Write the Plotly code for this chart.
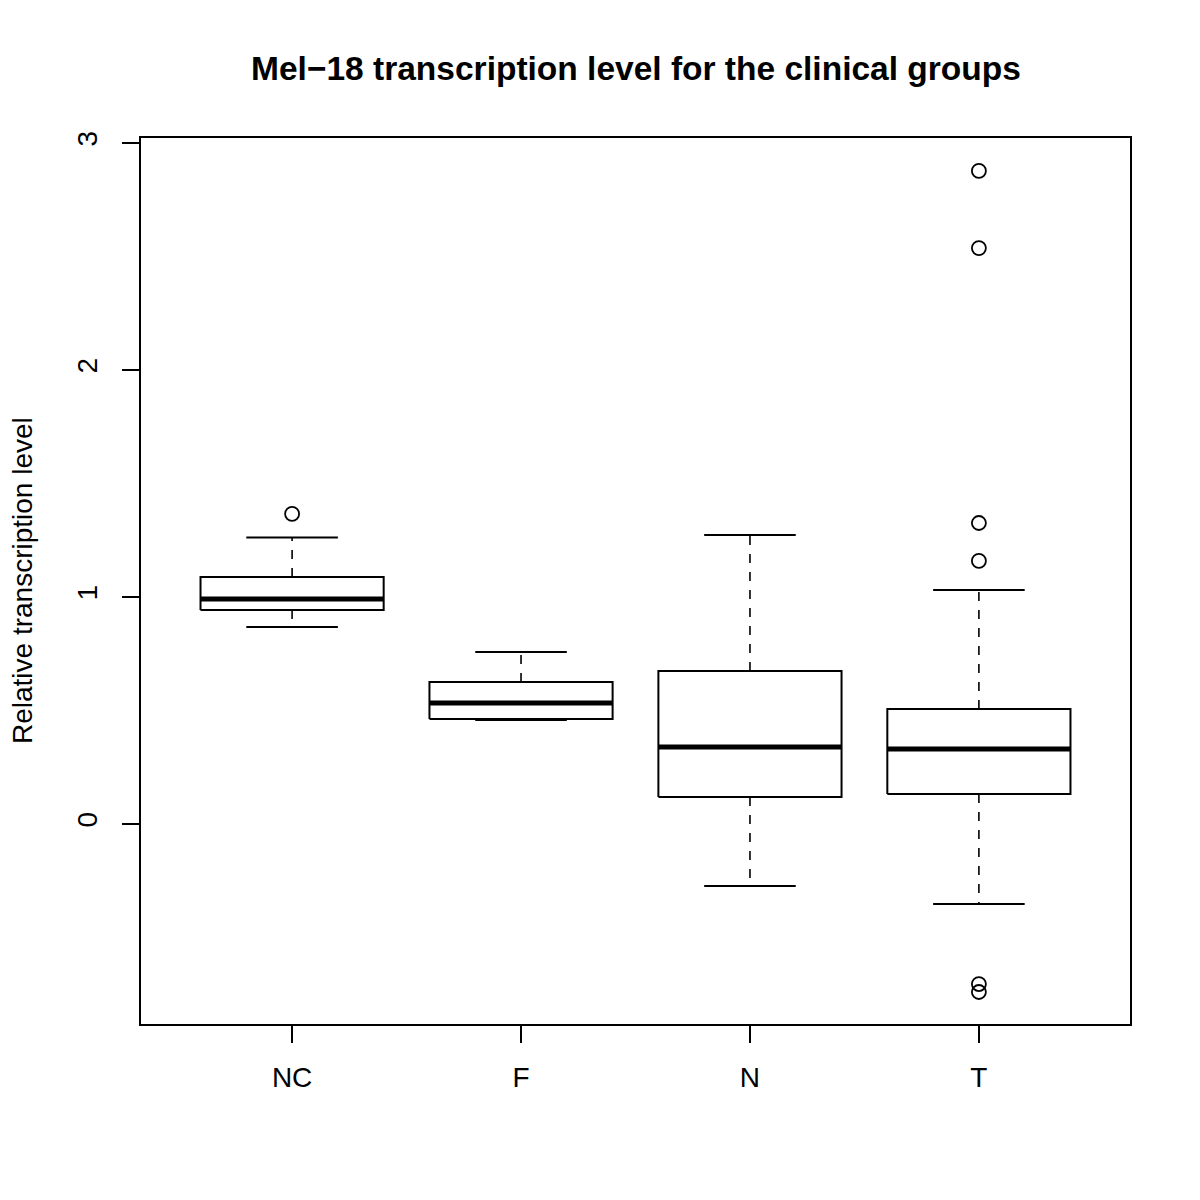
import plotly.graph_objects as go

# ---- data ----
groups = ["NC", "F", "N", "T"]
positions = [1, 2, 3, 4]
lower_whisker = [0.868, 0.458, -0.273, -0.352]
q1 = [0.943, 0.463, 0.119, 0.132]
median = [0.991, 0.533, 0.339, 0.330]
q3 = [1.088, 0.626, 0.674, 0.507]
upper_whisker = [1.262, 0.758, 1.273, 1.031]
outliers = [
    [1.366],
    [],
    [],
    [2.877, 2.537, 1.326, 1.159, -0.705, -0.740],
]

y_ticks = [0, 1, 2, 3]

BOX_HALF = 0.4
STAPLE_HALF = 0.2
FONT = "Liberation Sans, Arial, Helvetica, sans-serif"

fig = go.Figure()

for i, p in enumerate(positions):
    # whiskers (dashed)
    fig.add_trace(go.Scatter(
        x=[p, p, None, p, p],
        y=[q3[i], upper_whisker[i], None, q1[i], lower_whisker[i]],
        mode="lines", line=dict(color="black", width=1.6, dash="9px,9px"),
        hoverinfo="skip", showlegend=False))
    # staples
    fig.add_trace(go.Scatter(
        x=[p - STAPLE_HALF, p + STAPLE_HALF, None, p - STAPLE_HALF, p + STAPLE_HALF],
        y=[upper_whisker[i], upper_whisker[i], None, lower_whisker[i], lower_whisker[i]],
        mode="lines", line=dict(color="black", width=2),
        hoverinfo="skip", showlegend=False))
    # box
    fig.add_trace(go.Scatter(
        x=[p - BOX_HALF, p + BOX_HALF, p + BOX_HALF, p - BOX_HALF, p - BOX_HALF],
        y=[q1[i], q1[i], q3[i], q3[i], q1[i]],
        mode="lines", line=dict(color="black", width=2),
        fill="toself", fillcolor="white",
        hoverinfo="skip", showlegend=False))
    # median
    fig.add_trace(go.Scatter(
        x=[p - BOX_HALF, p + BOX_HALF],
        y=[median[i], median[i]],
        mode="lines", line=dict(color="black", width=5),
        hoverinfo="skip", showlegend=False))
    # outliers
    if outliers[i]:
        fig.add_trace(go.Scatter(
            x=[p] * len(outliers[i]), y=outliers[i],
            mode="markers",
            marker=dict(symbol="circle-open", size=14, color="black",
                        line=dict(width=1.8, color="black")),
            hoverinfo="skip", showlegend=False))

fig.update_layout(
    width=1200, height=1200,
    margin=dict(l=133, r=78, t=130, b=184),
    paper_bgcolor="white", plot_bgcolor="white",
    font=dict(family=FONT, size=28, color="black"),
    title=dict(
        text="<b>Mel\u221218 transcription level for the clinical groups</b>",
        x=0.5233, xanchor="center", y=1 - 60 / 1200, yanchor="middle",
        font=dict(family=FONT, size=33.5, color="black")),
    showlegend=False,
)

fig.update_xaxes(
    range=[0.34, 4.66],
    tickmode="array", tickvals=positions, ticktext=groups,
    ticks="outside", ticklen=17, tickwidth=2, tickcolor="black",
    showline=True, linecolor="black", linewidth=2, mirror=True,
    showgrid=False, zeroline=False,
    ticklabelstandoff=10,
    tickfont=dict(family=FONT, size=28, color="black"),
)
fig.update_yaxes(
    range=[-0.881, 3.022],
    tickmode="array", tickvals=y_ticks, ticktext=[str(t) for t in y_ticks],
    tickangle=-90,
    ticks="outside", ticklen=17, tickwidth=2, tickcolor="black",
    showline=True, linecolor="black", linewidth=2, mirror=True,
    showgrid=False, zeroline=False,
    ticklabelstandoff=14,
    tickfont=dict(family=FONT, size=28, color="black"),
)

fig.add_annotation(
    text="Relative transcription level",
    xref="paper", yref="paper", x=0, y=0.5,
    xanchor="center", yanchor="middle",
    xshift=-119, textangle=-90, showarrow=False,
    font=dict(family=FONT, size=28, color="black"),
)

fig.write_html("out.html")
